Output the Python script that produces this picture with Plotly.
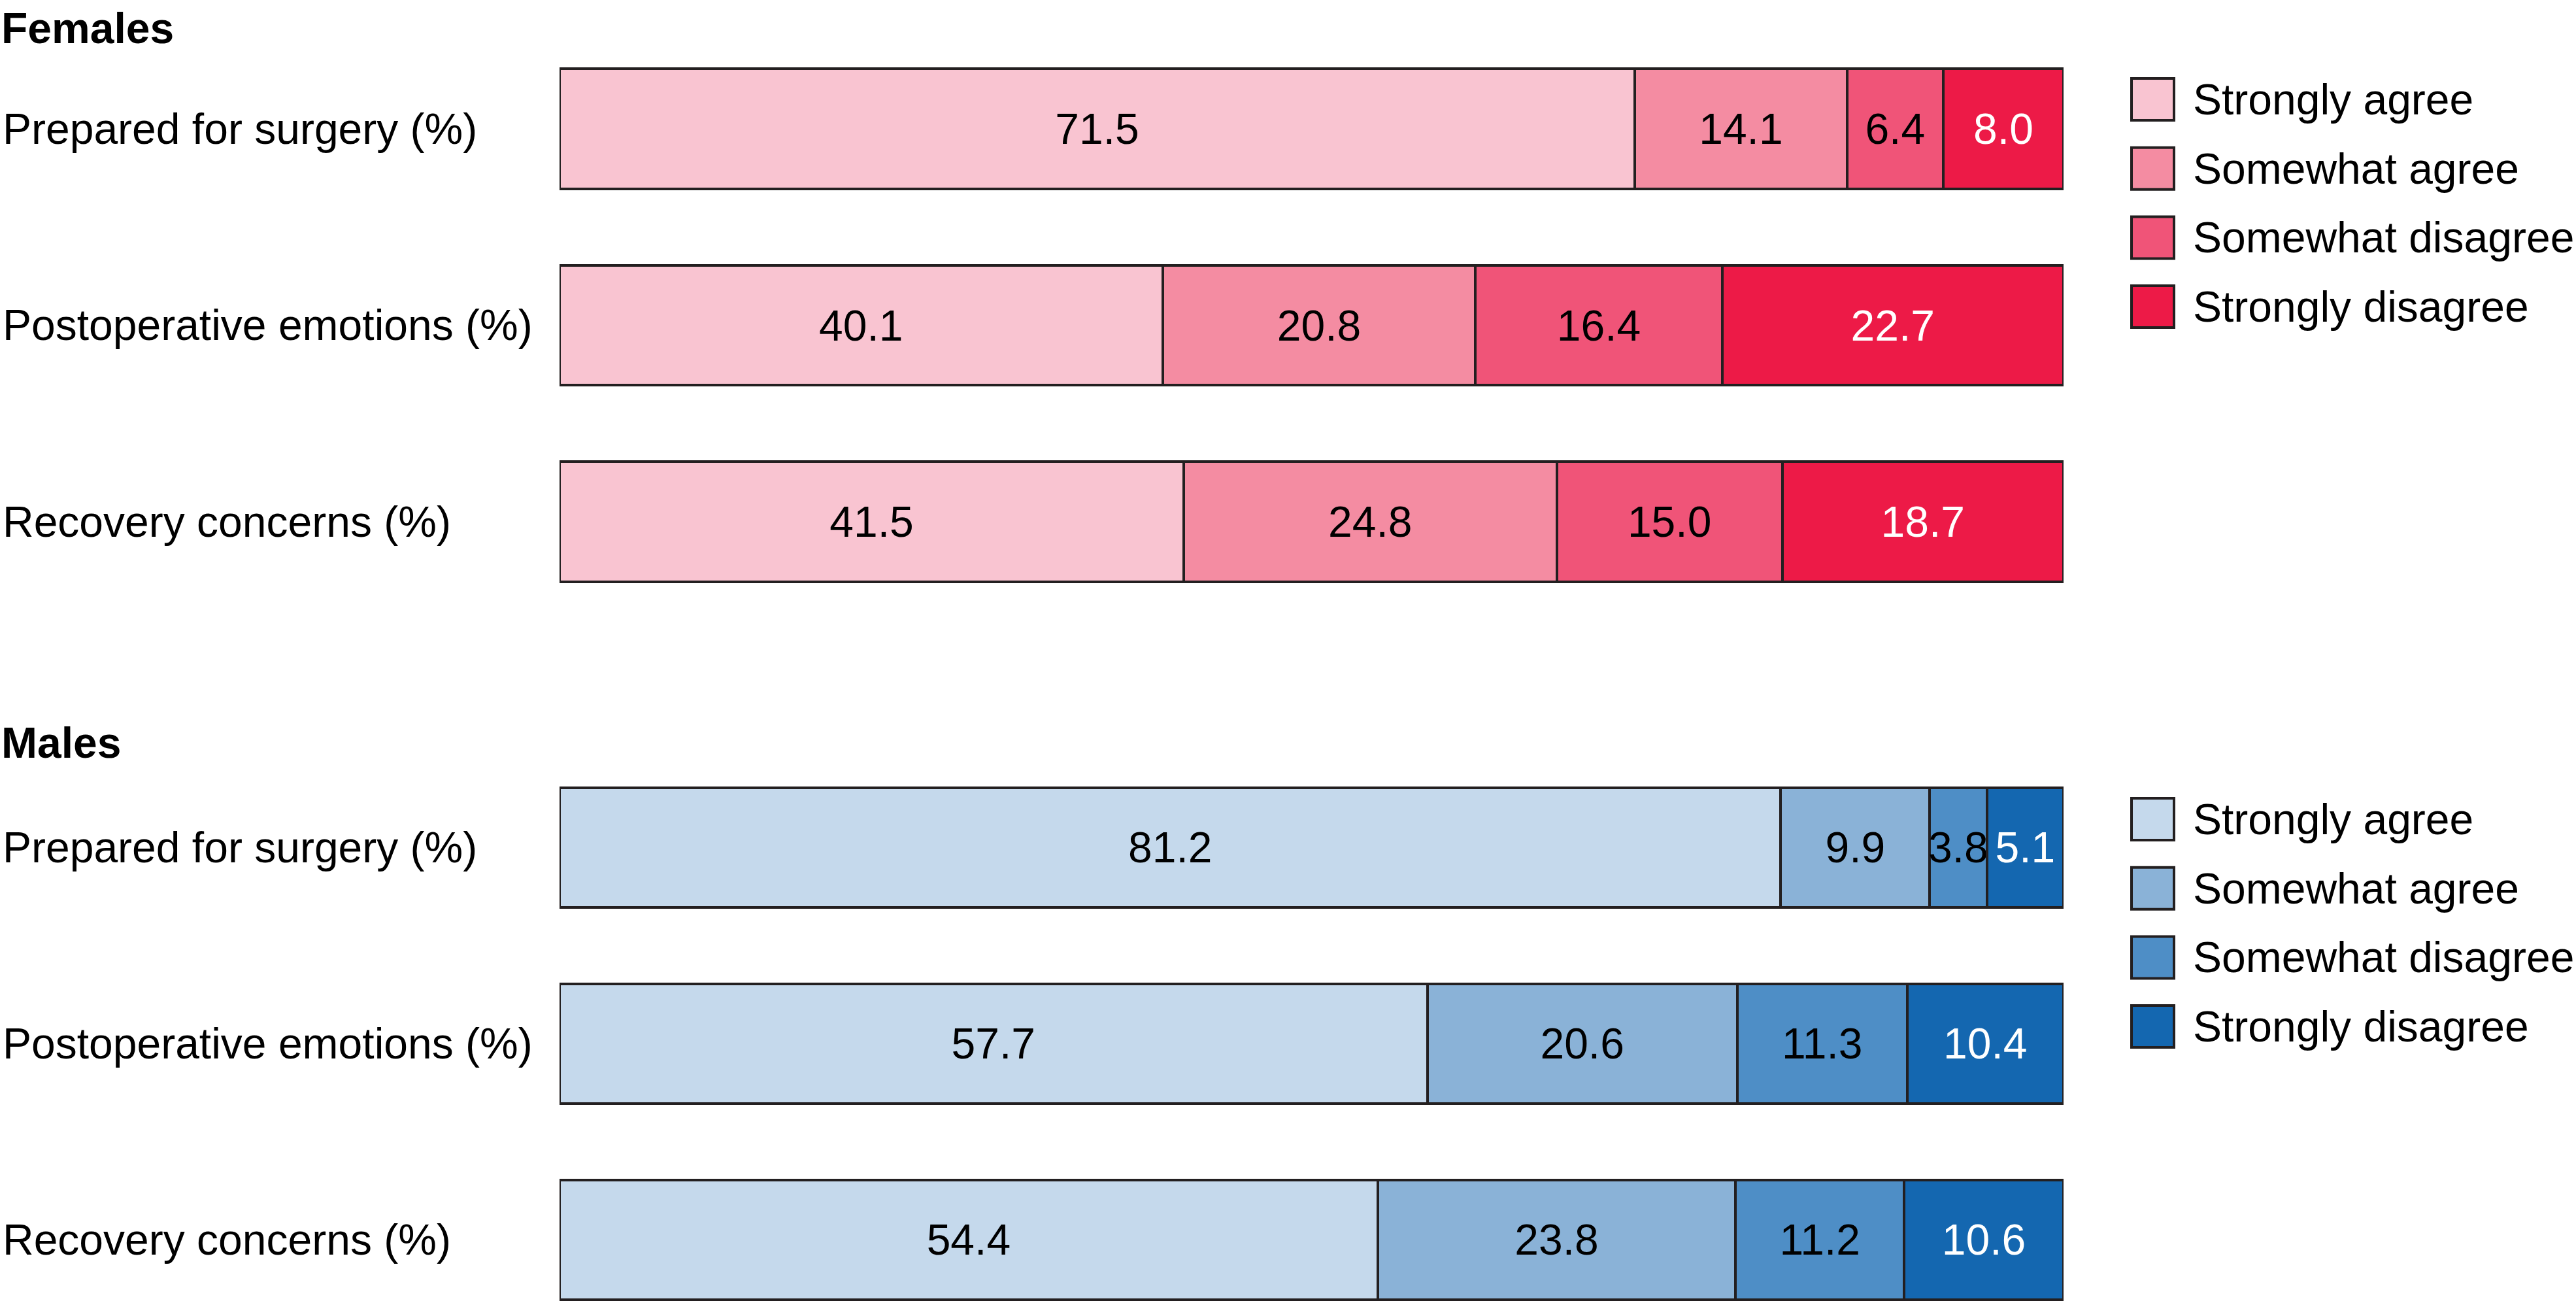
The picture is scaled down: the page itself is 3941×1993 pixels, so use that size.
import plotly.graph_objects as go

# ---------------- data ----------------
categories = ["Prepared for surgery (%)", "Postoperative emotions (%)", "Recovery concerns (%)"]
responses = ["Strongly agree", "Somewhat agree", "Somewhat disagree", "Strongly disagree"]

females_strongly_agree = [71.5, 40.1, 41.5]
females_somewhat_agree = [14.1, 20.8, 24.8]
females_somewhat_disagree = [6.4, 16.4, 15.0]
females_strongly_disagree = [8.0, 22.7, 18.7]

males_strongly_agree = [81.2, 57.7, 54.4]
males_somewhat_agree = [9.9, 20.6, 23.8]
males_somewhat_disagree = [3.8, 11.3, 11.2]
males_strongly_disagree = [5.1, 10.4, 10.6]

group_titles = ["Females", "Males"]

# ---------------- styles ----------------
W, H = 3941, 1993
FONT = "Liberation Sans, Arial, Helvetica, sans-serif"
FS = 66
EDGE = "#231f20"
pink = ["#F9C4D1", "#F48CA2", "#F05478", "#ED1A47"]
blue = ["#C5D9EC", "#8AB2D7", "#4E8EC6", "#1467B0"]
text_colors = ["black", "black", "black", "white"]

female_series = [females_strongly_agree, females_somewhat_agree,
                 females_somewhat_disagree, females_strongly_disagree]
male_series = [males_strongly_agree, males_somewhat_agree,
               males_somewhat_disagree, males_strongly_disagree]

ypos = list(range(len(categories)))

fig = go.Figure()

groups = [("y", female_series, pink), ("y2", male_series, blue)]
for yax, series, colors in groups:
    for i, (name, vals) in enumerate(zip(responses, series)):
        fig.add_trace(go.Bar(
            y=ypos, x=vals, orientation="h", name=name,
            yaxis=yax, xaxis="x" if yax == "y" else "x2",
            marker=dict(color=colors[i], line=dict(color=EDGE, width=4)),
            texttemplate="%{x:.1f}", textposition="inside",
            insidetextanchor="middle", textangle=0, constraintext="none",
            textfont=dict(family=FONT, size=FS, color=text_colors[i]),
            showlegend=False, hoverinfo="skip",
        ))

# ---------------- layout ----------------
def pfy(px):
    return 1 - px / H

x_dom = [856 / W, 3157 / W]

# top panel: pixel domain 40..960; category 0 at 197 px, 2 at 798 px
top_dom = (40, 960)
t_unit = (798 - 197) / 2
t_range = [2 + (top_dom[1] - 798) / t_unit, -(197 - top_dom[0]) / t_unit]
# bottom panel: pixel domain 1000..1993; category 0 at 1296, 2 at 1896
bot_dom = (1000, 1993)
b_unit = (1896 - 1296) / 2
b_range = [2 + (bot_dom[1] - 1896) / b_unit, -(1296 - bot_dom[0]) / b_unit]

axis_off = dict(showgrid=False, zeroline=False, showticklabels=False,
                showline=False, ticks="", fixedrange=True)

fig.update_layout(
    width=W, height=H,
    margin=dict(l=0, r=0, t=0, b=0),
    paper_bgcolor="white", plot_bgcolor="white",
    barmode="stack", bargap=0.39,
    uniformtext=dict(minsize=FS, mode="show"),
    font=dict(family=FONT, size=FS, color="black"),
    xaxis=dict(domain=x_dom, range=[0, 100], anchor="y", **axis_off),
    xaxis2=dict(domain=x_dom, range=[0, 100], anchor="y2", **axis_off),
    yaxis=dict(domain=[pfy(top_dom[1]), pfy(top_dom[0])], range=t_range,
               anchor="x", **axis_off),
    yaxis2=dict(domain=[pfy(bot_dom[1]), pfy(bot_dom[0])], range=b_range,
                anchor="x2", **axis_off),
    showlegend=False,
)

annotations = []
shapes = []
# category labels
for yref in ["y", "y2"]:
    for yp, cat in zip(ypos, categories):
        annotations.append(dict(
            x=2 / W, y=yp, xref="paper", yref=yref, text=cat,
            xanchor="left", yanchor="middle", showarrow=False,
            font=dict(family=FONT, size=FS, color="black")))

# group titles
title_px = [43, 1136]
for t, py in zip(group_titles, title_px):
    annotations.append(dict(
        x=0, y=pfy(py), xref="paper", yref="paper", text="<b>%s</b>" % t,
        xanchor="left", yanchor="middle", showarrow=False,
        font=dict(family=FONT, size=FS, color="black")))

# legends (manual, to get large swatches)
legend_first_px = [152, 1253]
legend_step = 105.7
box_x0, box_x1 = 3261, 3326
box_h = 64
for (_, _, colors), y0 in zip(groups, legend_first_px):
    for i, name in enumerate(responses):
        cy = y0 + i * legend_step
        shapes.append(dict(
            type="rect", xref="paper", yref="paper",
            x0=box_x0 / W, x1=box_x1 / W,
            y0=pfy(cy + box_h / 2), y1=pfy(cy - box_h / 2),
            fillcolor=colors[i], line=dict(color=EDGE, width=4)))
        annotations.append(dict(
            x=3353 / W, y=pfy(cy), xref="paper", yref="paper", text=name,
            xanchor="left", yanchor="middle", showarrow=False,
            font=dict(family=FONT, size=FS, color="black")))

fig.update_layout(annotations=annotations, shapes=shapes)

fig.write_html("out.html")
